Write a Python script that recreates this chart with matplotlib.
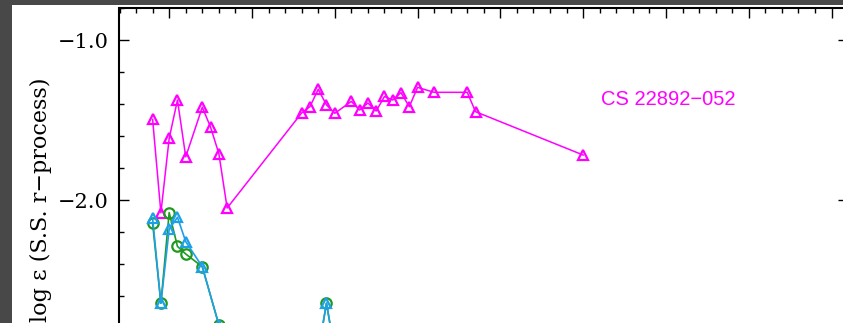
#!/usr/bin/env python3

import matplotlib
matplotlib.use("Agg")
import matplotlib.pyplot as plt
from matplotlib.patches import Rectangle
from matplotlib.ticker import MultipleLocator

# CS 22892-052 (upper curve, open triangles)
cs_z = [38, 39, 40, 41, 42, 44, 45, 46, 47,
        56, 57, 58, 59, 60, 62, 63, 64, 65, 66, 67, 68, 69, 70, 72, 76, 77, 90]
cs_eps = [-1.496, -2.08, -1.615, -1.375, -1.73, -1.42, -1.545, -1.71, -2.05,
          -1.456, -1.417, -1.308, -1.406, -1.458, -1.384, -1.4375, -1.394,
          -1.444, -1.353, -1.375, -1.329, -1.417, -1.296, -1.327, -1.327,
          -1.448, -1.719]

# lower comparison stars
green_z = [38, 39, 40, 41, 42, 44, 46, 56, 57, 58, 59, 60, 62]
green_eps = [-2.146, -2.645, -2.079, -2.29, -2.3375, -2.417, -2.78,
             -3.05, -3.10, -2.95, -2.645, -2.95, -3.05]

cyan_z = [38, 39, 40, 41, 42, 44, 46, 56, 57, 58, 59, 60, 62]
cyan_eps = [-2.115, -2.645, -2.183, -2.108, -2.26, -2.417, -2.78,
            -3.05, -3.10, -2.95, -2.645, -2.95, -3.05]

MAGENTA = "#ff00ff"
GREEN = "#1f9a1f"
CYAN = "#1ea0e8"


def main():
    plt.rcParams["font.family"] = ["DejaVu Serif"]

    fig = plt.figure(figsize=(8.43, 3.23), dpi=100, facecolor="#484848")
    # white page
    fig.add_artist(Rectangle((12 / 843, 0), 831 / 843, 318 / 323,
                             transform=fig.transFigure, facecolor="white",
                             edgecolor="none", zorder=0))

    ax = fig.add_axes([119.5 / 843, -69 / 323, 728.6 / 843, 384 / 323])
    ax.set_facecolor("white")

    ax.plot(cs_z, cs_eps, color=MAGENTA, lw=1.1, marker="^", ms=7.5,
            mfc="none", mec=MAGENTA, mew=1.6)
    ax.plot(green_z, green_eps, color=GREEN, lw=1.2, marker="o", ms=7.5,
            mfc="none", mec=GREEN, mew=1.6)
    ax.plot(cyan_z, cyan_eps, color=CYAN, lw=1.2, marker="^", ms=7.5,
            mfc="none", mec=CYAN, mew=1.6)

    ax.text(92.2, -1.369, "CS 22892\u2212052", color=MAGENTA,
            family="Liberation Sans", fontsize=14.5, ha="left", va="center")

    ax.set_xlim(34, 122)
    ax.set_ylim(-3.2, -0.8)
    ax.xaxis.set_major_locator(MultipleLocator(10))
    ax.xaxis.set_minor_locator(MultipleLocator(2))
    ax.yaxis.set_major_locator(MultipleLocator(1.0))
    ax.yaxis.set_minor_locator(MultipleLocator(0.2))
    ax.yaxis.set_major_formatter(lambda v, pos: f"{v:.1f}".replace("-", "\u2212"))

    ax.tick_params(which="both", direction="in", top=True, right=True,
                   width=1.0, labelbottom=False)
    ax.tick_params(which="major", length=7.5, labelsize=15, pad=8)
    ax.tick_params(which="minor", length=3.8)
    for s in ax.spines.values():
        s.set_linewidth(1.5)

    ax.set_ylabel("log \u03b5 (S.S. r\u2212process)", fontsize=16)
    ax.yaxis.set_label_coords(-0.093, 0.5)

    fig.savefig("out.png", dpi=100, facecolor=fig.get_facecolor())


if __name__ == "__main__":
    main()
